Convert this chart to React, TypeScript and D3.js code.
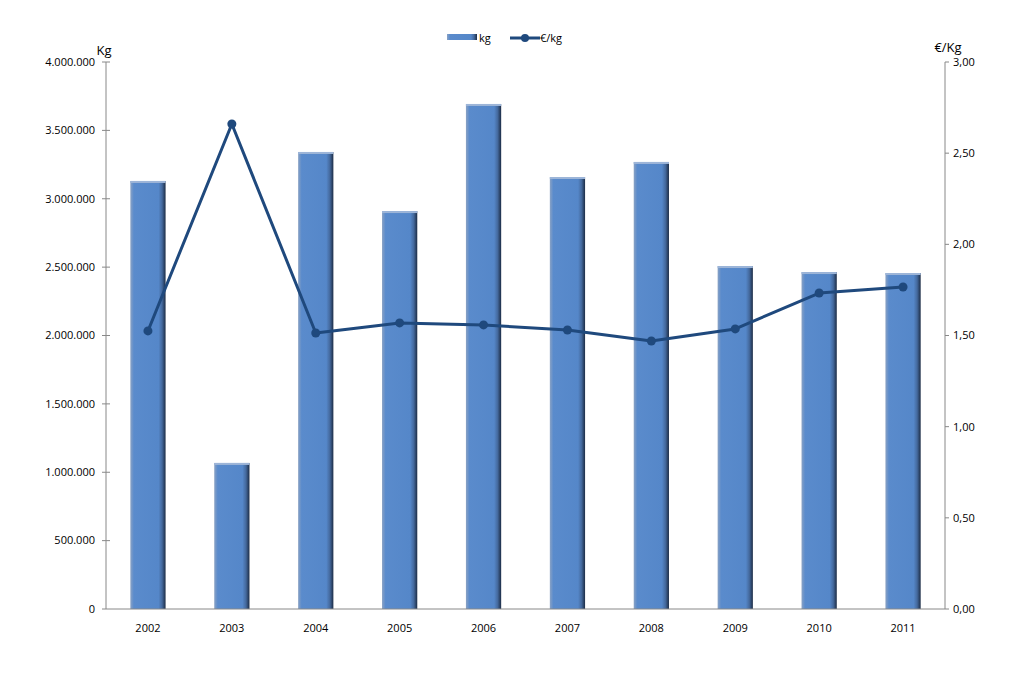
import React from "react";
import * as d3 from "d3";

const years = ["2002", "2003", "2004", "2005", "2006", "2007", "2008", "2009", "2010", "2011"];
const kg = [3130000, 1068000, 3342000, 2910000, 3693000, 3159000, 3269000, 2508000, 2464000, 2457000];
const eurKg = [1.525, 2.66, 1.514, 1.569, 1.558, 1.53, 1.47, 1.536, 1.733, 1.766];
const leftTicks = [0, 500000, 1000000, 1500000, 2000000, 2500000, 3000000, 3500000, 4000000];
const rightTicks = [0, 0.5, 1, 1.5, 2, 2.5, 3];

const W = 1014, H = 675;
const L = 106, R = 945, T = 62, B = 609;
const font = "'Open Sans', 'DejaVu Sans', sans-serif";

const fmtLeft = (v: number) => d3.format(",")(v).replace(/,/g, ".");
const fmtRight = (v: number) => v.toFixed(2).replace(".", ",");

export default function App() {
  const x = d3.scaleBand<string>().domain(years).range([L, R]).paddingInner(0.58).paddingOuter(0.29);
  const xc = (y: string) => (x(y) as number) + x.bandwidth() / 2;
  const yL = d3.scaleLinear().domain([0, 4000000]).range([B, T]);
  const yR = d3.scaleLinear().domain([0, 3]).range([B, T]);
  const line = d3.line<number>().x((_, i) => xc(years[i])).y((d) => yR(d));
  const axisColor = "#888";
  return (
    <svg width={W} height={H} style={{ position: "absolute", left: 0, top: 0, background: "#fff" }}>
      <defs>
        <linearGradient id="barg" x1="0" x2="1" y1="0" y2="0">
          <stop offset="0%" stopColor="#8aa2c4" />
          <stop offset="10%" stopColor="#5a8bcc" />
          <stop offset="80%" stopColor="#5587c9" />
          <stop offset="90%" stopColor="#44699d" />
          <stop offset="100%" stopColor="#1c2c45" />
        </linearGradient>
      </defs>
      {/* bars */}
      {years.map((yr, i) => (
        <g key={yr}>
          <rect x={x(yr)} y={yL(kg[i])} width={x.bandwidth()} height={B - yL(kg[i])} fill="url(#barg)" />
          <rect x={x(yr)} y={yL(kg[i])} width={x.bandwidth()} height={2} fill="#9db5d8" />
        </g>
      ))}
      {/* left axis */}
      <line x1={L} x2={L} y1={T} y2={B} stroke={axisColor} />
      {leftTicks.map((t) => (
        <g key={t}>
          <line x1={L - 4} x2={t === 0 ? L : L + 4} y1={yL(t)} y2={yL(t)} stroke={axisColor} />
          <text x={L - 11} y={yL(t)} dy="0.35em" textAnchor="end" fontFamily={font} fontSize={11} fill="#000">
            {fmtLeft(t)}
          </text>
        </g>
      ))}
      {/* right axis */}
      <line x1={R} x2={R} y1={T} y2={B} stroke={axisColor} />
      {rightTicks.map((t) => (
        <g key={t}>
          <line x1={R} x2={R + 4} y1={yR(t)} y2={yR(t)} stroke={axisColor} />
          <text x={R + 8} y={yR(t)} dy="0.35em" textAnchor="start" fontFamily={font} fontSize={11} fill="#000">
            {fmtRight(t)}
          </text>
        </g>
      ))}
      {/* bottom axis */}
      <line x1={L} x2={R} y1={B} y2={B} stroke={axisColor} />
      {years.map((yr) => (
        <text key={yr} x={xc(yr)} y={B + 19} dy="0.35em" textAnchor="middle" fontFamily={font} fontSize={11} fill="#000">
          {yr}
        </text>
      ))}
      {/* axis titles */}
      <text x={104} y={50} dy="0.35em" textAnchor="middle" fontFamily={font} fontSize={13} fill="#000">Kg</text>
      <text x={948} y={47} dy="0.35em" textAnchor="middle" fontFamily={font} fontSize={13} fill="#000">€/Kg</text>
      {/* line */}
      <path d={line(eurKg) as string} fill="none" stroke="#1f497d" strokeWidth={3} strokeLinejoin="round" />
      {eurKg.map((v, i) => (
        <circle key={i} cx={xc(years[i])} cy={yR(v)} r={4.5} fill="#1f497d" />
      ))}
      {/* legend */}
      <rect x={447} y={34} width={30} height={6} fill="url(#barg)" />
      <text x={479} y={38} dy="0.35em" fontFamily={font} fontSize={11} fill="#000">kg</text>
      <line x1={510} x2={540} y1={38} y2={38} stroke="#1f497d" strokeWidth={3} />
      <circle cx={525} cy={38} r={4} fill="#1f497d" />
      <text x={540} y={38} dy="0.35em" fontFamily={font} fontSize={11} fill="#000">€/kg</text>
    </svg>
  );
}
